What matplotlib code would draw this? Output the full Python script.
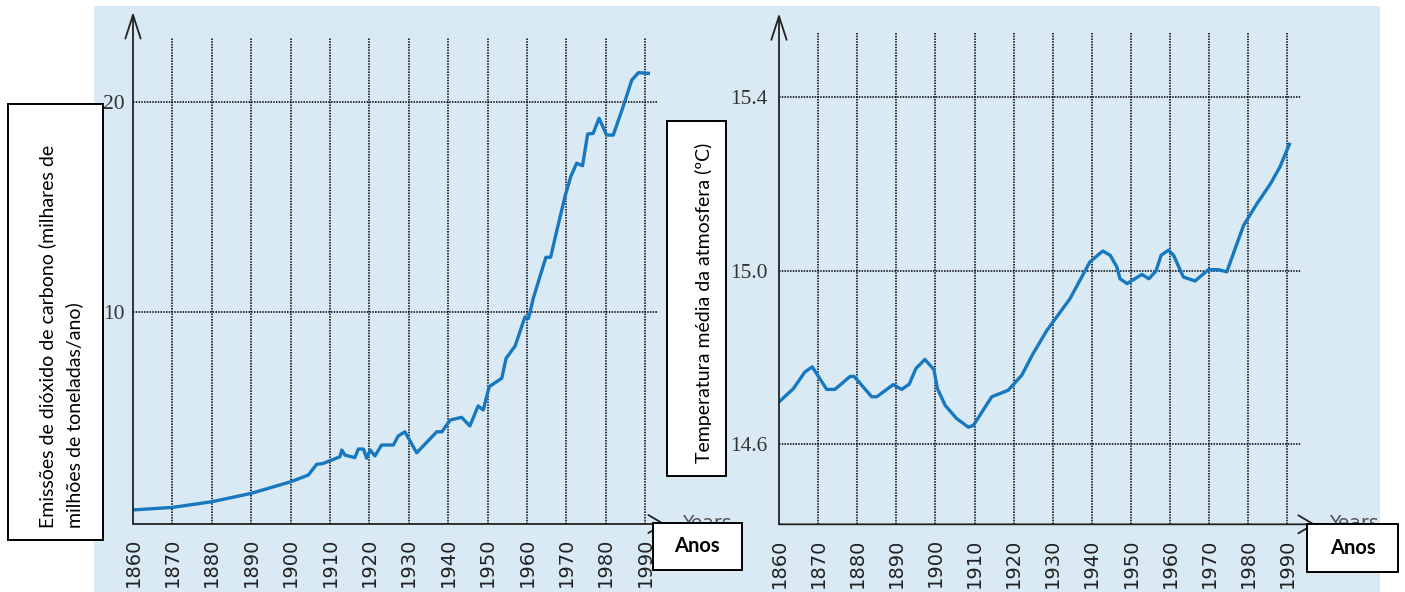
import matplotlib.pyplot as plt
from matplotlib.patches import Rectangle

W, H = 1405, 592

# ── data ──────────────────────────────────────────────────────────────
co2_years = [1860, 1870, 1880, 1890, 1900, 1904.5, 1906.6, 1908.2, 1912.5, 1913,
             1913.8, 1916.3, 1917.2, 1918.5, 1919.3, 1920.2, 1921.4, 1923.1, 1926.1,
             1927.3, 1929, 1932, 1937.1, 1938.4, 1940.5, 1943.4, 1945.5, 1947.6,
             1948.9, 1950.4, 1953.6, 1954.7, 1957, 1959.5, 1960.4, 1961.6, 1964.8,
             1966, 1967.6, 1969.7, 1971.1, 1972.6, 1974.1, 1975.4, 1976.8, 1978.3,
             1980.2, 1981.9, 1984.4, 1986.6, 1988.3, 1990.8]
co2_values = [0.59, 0.71, 0.98, 1.38, 1.93, 2.25, 2.76, 2.80, 3.12, 3.44,
              3.20, 3.08, 3.49, 3.49, 3.05, 3.44, 3.16, 3.68, 3.68,
              4.11, 4.31, 3.31, 4.31, 4.31, 4.87, 5.00, 4.59, 5.54,
              5.35, 6.46, 6.86, 7.81, 8.40, 9.79, 9.71, 10.67, 12.62,
              12.62, 13.92, 15.55, 16.46, 17.10, 16.98, 18.49, 18.52, 19.24,
              18.44, 18.44, 19.79, 21.06, 21.41, 21.38]

temp_years = [1860, 1863.7, 1866.6, 1868.5, 1872.2, 1874.3, 1878.2, 1879.2, 1883.7,
              1885, 1889.2, 1891.4, 1893.3, 1895, 1897.3, 1899.6, 1900.5, 1902.5,
              1905.4, 1908.4, 1909.7, 1914.4, 1918.6, 1922.1, 1925, 1928.5, 1934.4,
              1939.5, 1942.8, 1944.7, 1946.4, 1947.2, 1949, 1952.8, 1954.6, 1956.4,
              1957.7, 1959.6, 1960.9, 1963.4, 1966.4, 1969.8, 1972.4, 1974.5, 1977.1,
              1978.8, 1982.2, 1985.6, 1988.1, 1990.5]
temp_values = [14.698, 14.729, 14.767, 14.779, 14.727, 14.727, 14.757, 14.757, 14.710,
               14.710, 14.738, 14.727, 14.739, 14.775, 14.796, 14.773, 14.729, 14.690,
               14.660, 14.640, 14.644, 14.710, 14.725, 14.760, 14.810, 14.863, 14.936,
               15.021, 15.046, 15.036, 15.009, 14.982, 14.971, 14.992, 14.982, 15.000,
               15.036, 15.048, 15.036, 14.986, 14.977, 15.003, 15.003, 14.998, 15.063,
               15.105, 15.155, 15.200, 15.240, 15.292]

decades = list(range(1860, 2000, 10))
co2_ticks = [10, 20]
co2_ticklabels = ["10", "20"]
temp_ticks = [14.6, 15.0, 15.4]
temp_ticklabels = ["14.6", "15.0", "15.4"]

co2_label = "Emissões de dióxido de carbono (milhares de\nmilhões de toneladas/ano)"
temp_label = "Temperatura média da atmosfera (ºC)"
x_label = "Anos"

LINE = "#1878bf"
BG = "#d9eaf4"
BOX_FONT = "Lato"


def fx(px):
    return px / W


def fy(py):
    return 1 - py / H


fig = plt.figure(figsize=(W / 100, H / 100), dpi=100)
fig.patch.set_facecolor("white")

# light blue panel behind both charts
fig.patches.append(Rectangle((fx(94), 0), fx(1380 - 94), fy(6), transform=fig.transFigure,
                             facecolor=BG, edgecolor="none", zorder=-5))


def make_panel(left, right, bottom, top, xlim, ylim, grid_top, years, values,
               yticks, yticklabels, ypad, arrow_tip):
    ax = fig.add_axes([fx(left), fy(bottom), fx(right - left), (bottom - top) / H])
    ax.set_facecolor("none")
    ax.set_xlim(*xlim)
    ax.set_ylim(*ylim)
    for s in ax.spines.values():
        s.set_visible(False)

    dots = (0, (1, 0.8))
    ax.vlines(decades[1:], ylim[0], grid_top, colors="black", linestyles=dots, lw=1.1)
    ax.hlines(yticks, xlim[0], xlim[1], colors="black", linestyles=dots, lw=1.1)

    ax.plot(years, values, color=LINE, lw=2.4, solid_joinstyle="round", zorder=3)

    ax.set_xticks(decades)
    ax.set_xticklabels([str(d) for d in decades], rotation=90)
    ax.tick_params(axis="x", length=0, pad=10, labelsize=14, labelcolor="#222")
    ax.set_yticks(yticks)
    ax.set_yticklabels(yticklabels, family="Liberation Serif", fontsize=15.5, color="#333")
    ax.tick_params(axis="y", length=0, pad=ypad)

    arrow = dict(arrowstyle="->,head_length=1.7,head_width=0.55", lw=1.3, color="#222",
                 shrinkA=0, shrinkB=0, mutation_scale=10)
    ax.annotate("", xy=(0, 1), xytext=(0, 0), xycoords="axes fraction", arrowprops=arrow,
                annotation_clip=False)
    head_x = dict(arrow, arrowstyle="->,head_length=1.1,head_width=0.65")
    ax.annotate("", xy=(arrow_tip, 0), xytext=(0, 0), xycoords="axes fraction",
                arrowprops=head_x, annotation_clip=False)
    return ax


# ── left: CO2 emissions ───────────────────────────────────────────────
make_panel(133, 657, 524, 12, (1860, 1993), (-0.08, 24.3), 23.05,
           co2_years, co2_values, co2_ticks, co2_ticklabels, 6, 1.016)

# ── right: mean temperature ───────────────────────────────────────────
make_panel(779, 1300.7, 524.3, 13.3, (1860, 1993.4), (14.416, 15.594), 15.551,
           temp_years, temp_values, temp_ticks, temp_ticklabels, 8, 1.028)

# "Years" left over from the original figure, mostly hidden by the boxes
for x in (682, 1329):
    fig.text(fx(x), fy(529), "Years", fontsize=13.5, color="#555", ha="left",
             va="baseline", zorder=2)


def box(x0, y0, x1, y1):
    fig.patches.append(Rectangle((fx(x0), fy(y1)), fx(x1 - x0), (y1 - y0) / H,
                                 transform=fig.transFigure, facecolor="white",
                                 edgecolor="black", lw=1.4, zorder=5))


# y-axis label boxes
box(8, 104, 103, 540)
fig.text(fx(71), fy(528), co2_label, rotation=90, rotation_mode="anchor", ha="left",
         va="baseline", family=BOX_FONT, fontsize=14, linespacing=1.6, zorder=6)

box(667, 121, 726, 476)
t = fig.text(fx(710), fy(463), temp_label, rotation=90, rotation_mode="anchor",
             ha="left", va="baseline", family=BOX_FONT, fontsize=14, zorder=6)
clip = Rectangle((fx(667), fy(476)), fx(711 - 667), (476 - 121) / H,
                 transform=fig.transFigure, visible=False)
t.set_clip_path(clip)

# x-axis label boxes
for x0, x1, y0, y1 in [(652.5, 742, 523, 570), (1307, 1398, 523.5, 572)]:
    box(x0, y0, x1, y1)
    fig.text(fx((x0 + x1) / 2), fy((y0 + y1) / 2), x_label, ha="center", va="center",
             family=BOX_FONT, fontsize=14.5, fontweight="bold", zorder=6)

fig.savefig("out.png", dpi=100)
